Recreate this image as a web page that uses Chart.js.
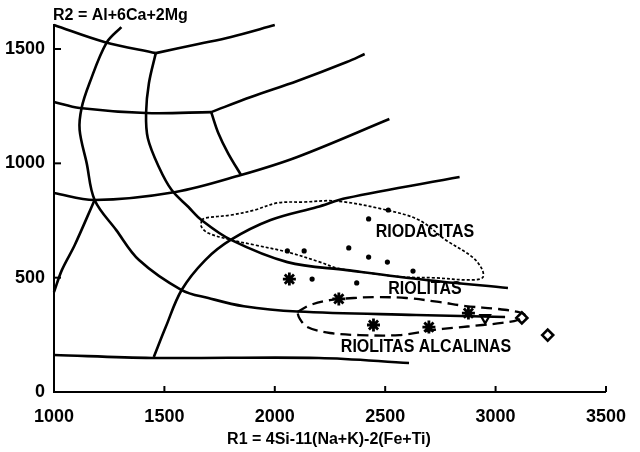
<!DOCTYPE html>
<html>
<head>
<meta charset="utf-8">
<script src="https://cdn.jsdelivr.net/npm/chart.js@4.4.0/dist/chart.umd.min.js"></script>
<style>
  body { margin: 0; background: #fff; }
  #wrap { width: 640px; height: 452px; }
</style>
</head>
<body>
<div id="wrap"><canvas id="r1r2Chart"></canvas></div>
<script>
// tick labels
const xTicks = [1000, 1500, 2000, 2500, 3000, 3500];
const yTicks = [0, 500, 1000, 1500];

// field boundaries of the R1-R2 diagram, [R1, R2]
const curveA1 = [[1000, 1605], [1228, 1531], [1461, 1482]];
const curveA2 = [[1461, 1482], [1654, 1522], [1802, 1553], [2000, 1605]];
const curveB1 = [[1000, 1268], [1116, 1242], [1417, 1220], [1712, 1224]];
const curveB2 = [[1712, 1224], [1892, 1290], [2102, 1360], [2326, 1443], [2407, 1478]];
const curveC = [[1000, 870], [1184, 840], [1551, 875], [1847, 949], [2102, 1028], [2519, 1194]];
const curveD = [[1452, 153], [1506, 284], [1578, 446], [1685, 577], [1800, 665], [1981, 752], [2192, 809], [2326, 848], [2837, 940]];
const curveE = [[1461, 1482], [1430, 1351], [1417, 1220], [1425, 1110], [1475, 984], [1533, 883], [1609, 809], [1668, 752], [1802, 665], [2057, 568], [2326, 533], [2685, 490], [3056, 455]];
const curveF = [[1305, 1596], [1237, 1526], [1161, 1351], [1125, 1242], [1116, 1146], [1148, 1001], [1184, 840], [1282, 708], [1385, 577], [1578, 446], [1699, 411], [1860, 375], [2102, 352], [2640, 337], [3043, 328]];
const curveG = [[1000, 437], [1036, 534], [1094, 643], [1184, 840]];
const curveH = [[1000, 162], [1444, 149], [2200, 149], [2608, 127]];
const curveJ = [[1712, 1224], [1744, 1133], [1788, 1045], [1847, 949]];

// envelopes of the sample groups
const riodacitasField = [[1668, 752], [1685, 761], [1802, 774], [1909, 796], [2012, 827], [2133, 831], [2281, 835], [2505, 796], [2653, 752], [2774, 665], [2895, 590], [2940, 534], [2940, 499], [2877, 490], [2729, 499], [2581, 503], [2429, 520], [2281, 542], [2205, 568], [2057, 612], [1909, 643], [1802, 665], [1699, 695], [1668, 722], [1668, 752]];
const alcalinasField = [[2102, 350], [2160, 380], [2250, 402], [2357, 411], [2460, 415], [2595, 411], [2743, 394], [2864, 376], [3012, 363], [3101, 350], [3132, 337], [3101, 315], [3029, 302], [2940, 293], [2805, 280], [2716, 271], [2564, 249], [2384, 249], [2250, 258], [2147, 284], [2111, 324], [2102, 350]];

// samples
const dotSamples = [[2057, 617], [2133, 617], [2169, 494], [2335, 630], [2425, 757], [2425, 590], [2510, 568], [2626, 529], [2371, 477], [2514, 796]];
const starSamples = [[2066, 494], [2290, 407], [2447, 293], [2698, 284], [2877, 345]];
const diamondSamples = [[3119, 324], [3236, 249]];
const triangleSamples = [[2953, 324]];

const fieldLabels = [
    {text: 'RIODACITAS', x: 2680, y: 680},
    {text: 'RIOLITAS', x: 2680, y: 430},
    {text: 'RIOLITAS ALCALINAS', x: 2685, y: 175}
];

const fontFamily = '"Liberation Sans", Arial, sans-serif';

function toXY(pairs) {
    return pairs.map(function (p) { return {x: p[0], y: p[1]}; });
}

function curve(pairs) {
    return {
        data: toXY(pairs),
        showLine: true,
        borderColor: '#000',
        borderWidth: 2.6,
        pointRadius: 0,
        tension: 0.35,
        clip: false
    };
}

const curves = [curveA1, curveA2, curveB1, curveB2, curveC, curveD, curveE, curveF, curveG, curveH, curveJ].map(curve);

// ticks pointing inward, axis titles and field names
const annotations = {
    id: 'annotations',
    afterDraw: function (chart) {
        const ctx = chart.ctx;
        const xs = chart.scales.x;
        const ys = chart.scales.y;
        const area = chart.chartArea;
        ctx.save();
        ctx.strokeStyle = '#000';
        ctx.lineWidth = 2;
        xTicks.slice(1).forEach(function (v) {
            const px = xs.getPixelForValue(v);
            ctx.beginPath();
            ctx.moveTo(px, area.bottom);
            ctx.lineTo(px, area.bottom - 6);
            ctx.stroke();
        });
        yTicks.slice(1).forEach(function (v) {
            const py = ys.getPixelForValue(v);
            ctx.beginPath();
            ctx.moveTo(area.left, py);
            ctx.lineTo(area.left + 7, py);
            ctx.stroke();
        });

        ctx.fillStyle = '#000';
        ctx.textBaseline = 'alphabetic';
        ctx.font = 'bold 16px ' + fontFamily;
        ctx.textAlign = 'left';
        ctx.fillText('R2 = Al+6Ca+2Mg', 53, 20);
        ctx.font = 'bold 16px ' + fontFamily;
        ctx.textAlign = 'center';
        ctx.fillText('R1 = 4Si-11(Na+K)-2(Fe+Ti)', 329, 444);

        fieldLabels.forEach(function (l) {
            const px = xs.getPixelForValue(l.x);
            const py = ys.getPixelForValue(l.y);
            ctx.save();
            ctx.translate(px, py);
            ctx.scale(1, 1.2);
            ctx.font = 'bold 16px ' + fontFamily;
            ctx.textAlign = 'center';
            ctx.fillText(l.text, 0, 0);
            ctx.restore();
        });
        ctx.restore();
    }
};

function plainTick(value) {
    return String(value);
}

var ctxR = document.getElementById('r1r2Chart').getContext('2d');
var r1r2Chart = new Chart(ctxR, {
    type: 'scatter',
    data: {
        datasets: curves.concat([
            {
                data: toXY(riodacitasField),
                showLine: true,
                borderColor: '#000',
                borderWidth: 1.7,
                borderDash: [3, 2],
                pointRadius: 0,
                tension: 0.35
            },
            {
                data: toXY(alcalinasField),
                showLine: true,
                borderColor: '#000',
                borderWidth: 2.3,
                borderDash: [11, 6],
                pointRadius: 0,
                tension: 0.35
            },
            {
                data: toXY(dotSamples),
                pointStyle: 'circle',
                pointRadius: 2.6,
                backgroundColor: '#000',
                borderColor: '#000',
                borderWidth: 0
            },
            {
                data: toXY(starSamples),
                pointStyle: 'star',
                pointRadius: 6.5,
                borderColor: '#000',
                borderWidth: 2.8
            },
            {
                data: toXY(diamondSamples),
                pointStyle: 'rectRot',
                pointRadius: 5.5,
                backgroundColor: '#fff',
                borderColor: '#000',
                borderWidth: 2.6
            },
            {
                data: toXY(triangleSamples),
                pointStyle: 'triangle',
                rotation: 180,
                pointRadius: 5.5,
                backgroundColor: '#fff',
                borderColor: '#000',
                borderWidth: 2.2
            }
        ])
    },
    options: {
        responsive: true,
        maintainAspectRatio: false,
        animation: false,
        layout: {
            padding: {top: 25, right: 28, left: 0, bottom: 0}
        },
        plugins: {
            legend: {display: false},
            tooltip: {enabled: false}
        },
        scales: {
            x: {
                type: 'linear',
                min: 1000,
                max: 3500,
                afterBuildTicks: function (s) {
                    s.ticks = xTicks.map(function (v) { return {value: v}; });
                },
                afterFit: function (s) { s.height = 60; },
                grid: {display: false, drawTicks: false},
                border: {display: true, color: '#000', width: 2},
                ticks: {
                    color: '#000',
                    padding: 14,
                    maxRotation: 0,
                    autoSkip: false,
                    callback: plainTick,
                    font: {family: fontFamily, size: 18, weight: 'bold'}
                }
            },
            y: {
                type: 'linear',
                min: 0,
                max: 1605,
                afterBuildTicks: function (s) {
                    s.ticks = yTicks.map(function (v) { return {value: v}; });
                },
                afterFit: function (s) { s.width = 54; },
                grid: {display: false, drawTicks: false},
                border: {display: true, color: '#000', width: 2},
                ticks: {
                    color: '#000',
                    padding: 9,
                    autoSkip: false,
                    callback: plainTick,
                    font: {family: fontFamily, size: 18, weight: 'bold'}
                }
            }
        }
    },
    plugins: [annotations]
});
</script>
</body>
</html>
